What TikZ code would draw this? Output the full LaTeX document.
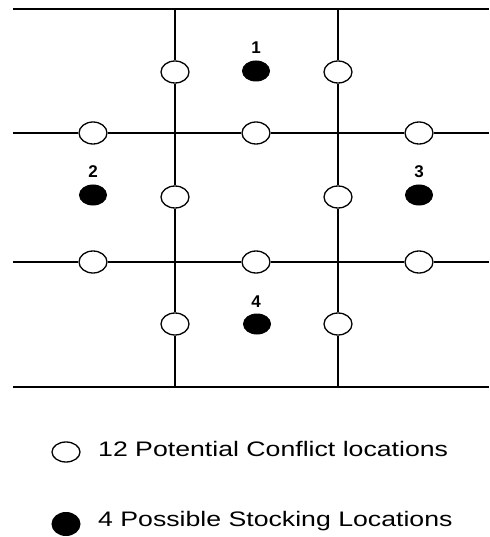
\documentclass[tikz,border=0pt]{standalone}
\usepackage{fontspec}
\setmainfont{Liberation Sans}
\usetikzlibrary{shapes.geometric}
\tikzset{
  grid/.style={line width=1.3pt, black},
  openloc/.style={ellipse, draw=black, fill=white, line width=1.3pt, minimum width=28pt, minimum height=22pt, inner sep=0pt},
  stockloc/.style={ellipse, fill=black, draw=black, line width=1pt, minimum width=27pt, minimum height=20pt, inner sep=0pt},
  numlabel/.style={anchor=base, inner sep=0pt, font=\fontsize{17}{17}\selectfont\bfseries},
  legendtext/.style={anchor=base west, inner sep=0pt, font=\fontsize{21}{21}\selectfont}
}
\begin{document}
\begin{tikzpicture}[x=1pt,y=-1pt]
\useasboundingbox (0,0) rectangle (489,537);
% line end points
\coordinate (tL) at (13,9);   \coordinate (tR) at (489,9);
\coordinate (bL) at (13,387); \coordinate (bR) at (489,387);
\coordinate (h2L) at (13,133); \coordinate (h2R) at (489,133);
\coordinate (h3L) at (13,262); \coordinate (h3R) at (489,262);
\coordinate (v1T) at (175,9); \coordinate (v1B) at (175,387);
\coordinate (v2T) at (338,9); \coordinate (v2B) at (338,387);
% conflict locations
\node[openloc] (o1) at (175,72) {};
\node[openloc] (o2) at (338,72) {};
\node[openloc] (o3) at (93,133) {};
\node[openloc] (o4) at (256,133) {};
\node[openloc] (o5) at (419,133) {};
\node[openloc] (o6) at (175,197) {};
\node[openloc] (o7) at (338,197) {};
\node[openloc] (o8) at (93,262) {};
\node[openloc] (o9) at (256,262) {};
\node[openloc] (o10) at (419,262) {};
\node[openloc] (o11) at (175,324) {};
\node[openloc] (o12) at (338,324) {};
% grid lines
\draw[grid] (tL) -- (tR);
\draw[grid] (bL) -- (bR);
\draw[grid] (h2L) -- (o3) -- (o4) -- (o5) -- (h2R);
\draw[grid] (h3L) -- (o8) -- (o9) -- (o10) -- (h3R);
\draw[grid] (v1T) -- (o1) -- (o6) -- (o11) -- (v1B);
\draw[grid] (v2T) -- (o2) -- (o7) -- (o12) -- (v2B);
% stocking locations
\node[stockloc] (s1) at (256,71) {};
\node[stockloc] (s2) at (93,195) {};
\node[stockloc] (s3) at (419,195) {};
\node[stockloc] (s4) at (257,324) {};
\node[numlabel] (n1) at (256,54) {1};
\node[numlabel] (n2) at (93,178) {2};
\node[numlabel] (n3) at (419,178) {3};
\node[numlabel] (n4) at (256,307) {4};
% legend
\node[openloc, minimum height=20pt] (lo) at (66,452) {};
\node[legendtext] (lt1) at (98,456) {\scalebox{1.27}[1]{12 Potential Conflict locations}};
\node[stockloc, minimum width=28pt, minimum height=23pt] (ls) at (66,524) {};
\node[legendtext] (lt2) at (98,526) {\scalebox{1.27}[1]{4 Possible Stocking Locations}};
\end{tikzpicture}
\end{document}
